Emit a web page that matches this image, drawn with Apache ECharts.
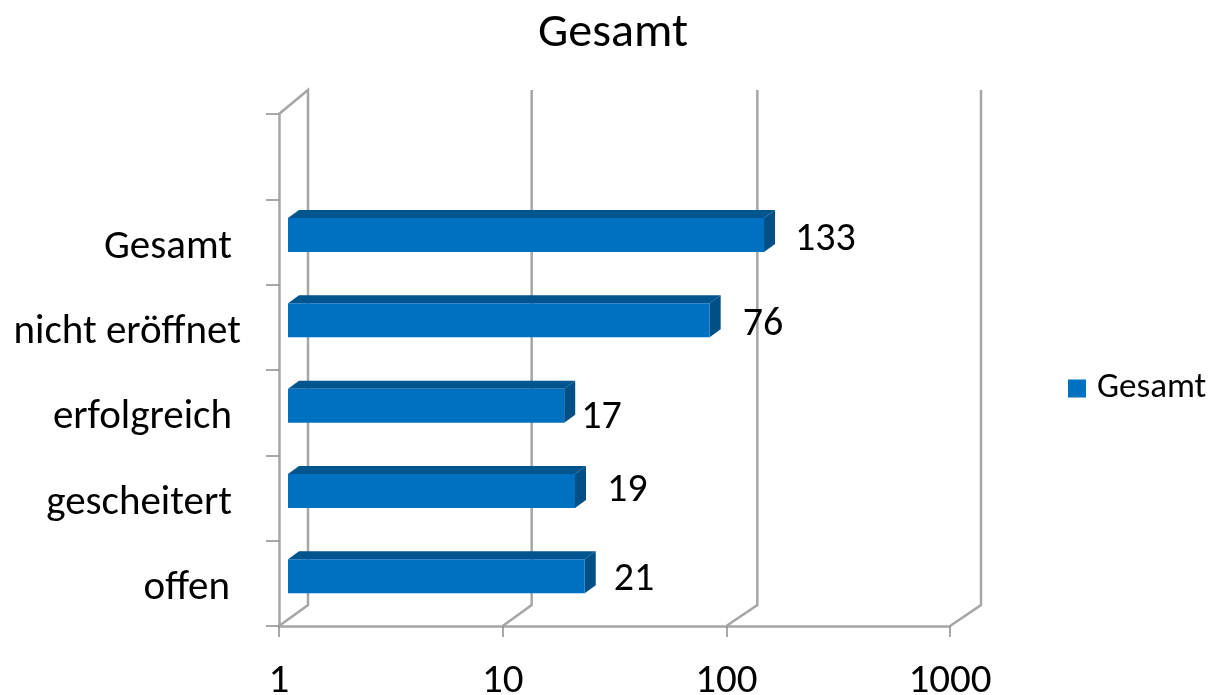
<!DOCTYPE html>
<html><head><meta charset="utf-8">
<style>html,body{margin:0;padding:0;background:#fff}#c{width:1220px;height:695px}</style>
<script src="https://cdn.jsdelivr.net/npm/echarts@6/dist/echarts.min.js"></script>
</head><body><div id="c"></div>
<script>
const categories = ['offen', 'gescheitert', 'erfolgreich', 'nicht eröffnet', 'Gesamt', ''];
const values = [21, 19, 17, 76, 133];
const xTicks = [1, 10, 100, 1000];
const seriesName = 'Gesamt';
const titleText = 'Gesamt';

// Style-only: hand-placed label nudges as in the reference (dx from bar tip, dy from band centre)
const labelDx = [18, 21, 6, 22, 20];
const labelDy = [-3, -7, 5, -2, -2];
const backDx = [29, 29, 31, 31];
const catStyle = {'offen': 'o', 'nicht eröffnet': 'n'};

const FONT = 'Carlito, Lato, sans-serif';
const AX = '#a6a6a6';
const FRONT = '#0070c0', TOP = '#00558f', SIDE = '#004f87';
const DX = 11, DY = 8, INX = 9, BARH = 34, BARUP = 24;
const LBL = 41;
const padTop = 11;

const chart = echarts.init(document.getElementById('c'), null, {renderer: 'canvas'});
chart.setOption({
  animation: false,
  backgroundColor: '#fff',
  title: {text: titleText, left: 608, top: 5, textAlign: 'center',
    textStyle: {fontFamily: FONT, fontSize: 48, fontWeight: 'normal', color: '#000'}},
  legend: {data: [{name: seriesName, icon: 'rect'}], left: 1063, top: 366, itemWidth: 18, itemHeight: 18, itemGap: 12,
    textStyle: {fontFamily: FONT, fontSize: 35, color: '#000', padding: [0, 0, 0, 6]}},
  grid: {left: 279, right: 270, top: 114, bottom: 69, outerBoundsMode: 'none'},
  xAxis: {type: 'log', logBase: 10, min: 1, max: 1000,
    axisLine: {show: true, lineStyle: {color: AX, width: 2.5}},
    axisTick: {show: true, length: 11, lineStyle: {color: '#8c8c8c', width: 1.5}},
    minorTick: {show: false}, splitLine: {show: false}, minorSplitLine: {show: false},
    axisLabel: {fontFamily: FONT, fontSize: LBL, color: '#000', margin: 35,
      showMinLabel: true, showMaxLabel: true, hideOverlap: false, formatter: v => String(Math.round(v))}},
  yAxis: {type: 'category', data: categories, boundaryGap: true,
    axisLine: {show: true, onZero: false, lineStyle: {color: AX, width: 2.5}},
    axisTick: {show: true, length: 13, lineStyle: {color: '#8c8c8c', width: 1.5}},
    splitLine: {show: false},
    axisLabel: {color: '#000', margin: 38, interval: 0,
      formatter: v => '{' + (catStyle[v] || 's') + '|' + v + '}',
      rich: {
        s: {fontFamily: FONT, fontSize: LBL, color: '#000', padding: [padTop, 9, 0, 0]},
        o: {fontFamily: FONT, fontSize: LBL, color: '#000', padding: [padTop, 11, 0, 0]},
        n: {fontFamily: FONT, fontSize: LBL, color: '#000', padding: [padTop, 0, 0, 0]}
      }}},
  series: [
    {type: 'custom', name: 'walls', coordinateSystem: 'cartesian2d', silent: true, z: 1,
      data: xTicks.map(t => [t, 0]), encode: {x: 0, y: 1},
      renderItem(params, api) {
        const x = api.coord([api.value(0), 0])[0];
        const cs = params.coordSys;
        const bottom = cs.y + cs.height, top = cs.y;
        const bx = x + backDx[params.dataIndex];
        const pts = [[x, bottom], [bx, bottom - 21], [bx, top - 24]];
        if (params.dataIndex === 0) pts.push([x, top]);
        return {type: 'polyline', shape: {points: pts},
          style: {stroke: AX, lineWidth: 2.5, fill: null}};
      }},
    {type: 'custom', name: seriesName, coordinateSystem: 'cartesian2d', silent: true, z: 3,
      itemStyle: {color: FRONT},
      data: values.map((v, i) => [v, i]), encode: {x: 0, y: 1},
      renderItem(params, api) {
        const i = params.dataIndex;
        const end = api.coord([api.value(0), api.value(1)]);
        const base = api.coord([1, api.value(1)]);
        const x0 = base[0] + INX, x1 = end[0] + INX + 1, y0 = end[1] - BARUP, y1 = y0 + BARH;
        return {type: 'group', children: [
          {type: 'polygon', shape: {points: [[x0, y0], [x0 + DX, y0 - DY], [x1 + DX, y0 - DY], [x1, y0]]}, style: {fill: TOP}},
          {type: 'polygon', shape: {points: [[x1, y0], [x1 + DX, y0 - DY], [x1 + DX, y1 - DY], [x1, y1]]}, style: {fill: SIDE}},
          {type: 'rect', shape: {x: x0, y: y0, width: x1 - x0, height: BARH}, style: {fill: FRONT}},
          {type: 'text', z2: 10, style: {text: String(api.value(0)), x: x1 + DX + labelDx[i], y: end[1] + labelDy[i],
            align: 'left', verticalAlign: 'middle', font: '40px ' + FONT, fill: '#000'}}
        ]};
      }}
  ]
});
</script></body></html>
